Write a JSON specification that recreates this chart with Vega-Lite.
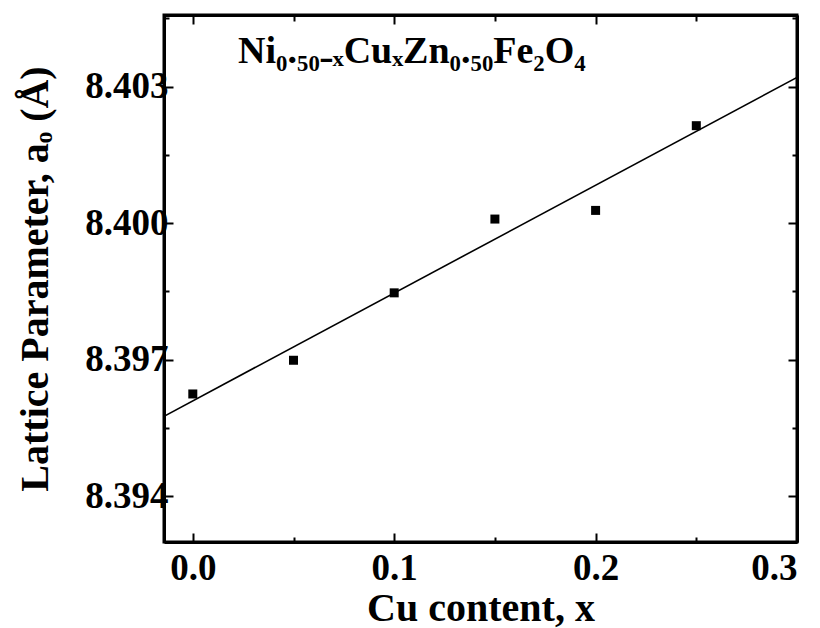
{
  "$schema": "https://vega.github.io/schema/vega-lite/v6.json",
  "autosize": {"type": "none"},
  "padding": {"left": 164, "top": 15, "right": 23, "bottom": 86},
  "width": 633,
  "height": 527,
  "background": "white",
  "config": {
    "view": {"stroke": "black", "strokeWidth": 3},
    "axis": {
      "grid": false,
      "domainColor": "black",
      "domainWidth": 3,
      "tickColor": "black",
      "tickWidth": 2,
      "labelColor": "black",
      "labelFont": "Liberation Serif",
      "labelFontWeight": "bold",
      "labelFontSize": 37,
      "titleColor": "black",
      "titleFont": "Liberation Serif",
      "titleFontWeight": "bold",
      "titleFontSize": 40
    }
  },
  "resolve": {"axis": {"x": "independent", "y": "independent"}},
  "layer": [
    {
      "data": {"values": [
        {"x": 0.0, "a": 8.39625},
        {"x": 0.05, "a": 8.39699},
        {"x": 0.1, "a": 8.39847},
        {"x": 0.15, "a": 8.40009},
        {"x": 0.2, "a": 8.40028},
        {"x": 0.25, "a": 8.40214}
      ]},
      "mark": {"type": "point", "shape": "square", "filled": true, "size": 81, "color": "black", "opacity": 1},
      "encoding": {
        "x": {
          "field": "x", "type": "quantitative",
          "scale": {"domain": [-0.0143, 0.3], "nice": false, "zero": false},
          "axis": {
            "orient": "bottom",
            "title": "Cu content, x",
            "titlePadding": 2,
            "values": [0, 0.05, 0.1, 0.15, 0.2, 0.25, 0.3],
            "labelExpr": "abs(datum.value*10 - round(datum.value*10)) < 0.001 ? format(datum.value, '.1f') : ''",
            "tickSize": {"condition": {"test": "abs(datum.value*10 - round(datum.value*10)) < 0.001", "value": -9}, "value": -5},
            "labelPadding": 17
          }
        },
        "y": {
          "field": "a", "type": "quantitative",
          "scale": {"domain": [8.393, 8.40457], "nice": false, "zero": false},
          "axis": {
            "orient": "left",
            "title": "Lattice Parameter, aₒ (Å)",
            "titlePadding": 29,
            "values": [8.394, 8.3955, 8.397, 8.3985, 8.4, 8.4015, 8.403, 8.4045],
            "labelExpr": "abs((datum.value-8.394)/0.003 - round((datum.value-8.394)/0.003)) < 0.01 ? format(datum.value, '.3f') : ''",
            "tickSize": {"condition": {"test": "abs((datum.value-8.394)/0.003 - round((datum.value-8.394)/0.003)) < 0.01", "value": -9}, "value": -5},
            "labelPadding": 5
          }
        }
      }
    },
    {
      "data": {"values": [
        {"x": -0.0143, "a": 8.39576},
        {"x": 0.3, "a": 8.4032}
      ]},
      "mark": {"type": "line", "color": "black", "strokeWidth": 1.6, "clip": true},
      "encoding": {
        "x": {
          "field": "x", "type": "quantitative",
          "axis": {
            "orient": "top", "title": null, "labels": false,
            "values": [0, 0.05, 0.1, 0.15, 0.2, 0.25, 0.3],
            "tickSize": {"condition": {"test": "abs(datum.value*10 - round(datum.value*10)) < 0.001", "value": -9}, "value": -6}
          }
        },
        "y": {
          "field": "a", "type": "quantitative",
          "axis": {
            "orient": "right", "title": null, "labels": false,
            "values": [8.394, 8.3955, 8.397, 8.3985, 8.4, 8.4015, 8.403, 8.4045],
            "tickSize": {"condition": {"test": "abs((datum.value-8.394)/0.003 - round((datum.value-8.394)/0.003)) < 0.01", "value": -9}, "value": -5}
          }
        }
      }
    },
    {
      "data": {"values": [{"label": "Ni₀.₅₀₋ₓCuₓZn₀.₅₀Fe₂O₄"}]},
      "mark": {"type": "text", "font": "Liberation Serif", "fontWeight": "bold", "fontSize": 38, "align": "left", "baseline": "alphabetic", "color": "black"},
      "encoding": {
        "x": {"datum": 0.0225, "type": "quantitative", "axis": null},
        "y": {"datum": 8.40351, "type": "quantitative", "axis": null},
        "text": {"field": "label"}
      }
    }
  ]
}
